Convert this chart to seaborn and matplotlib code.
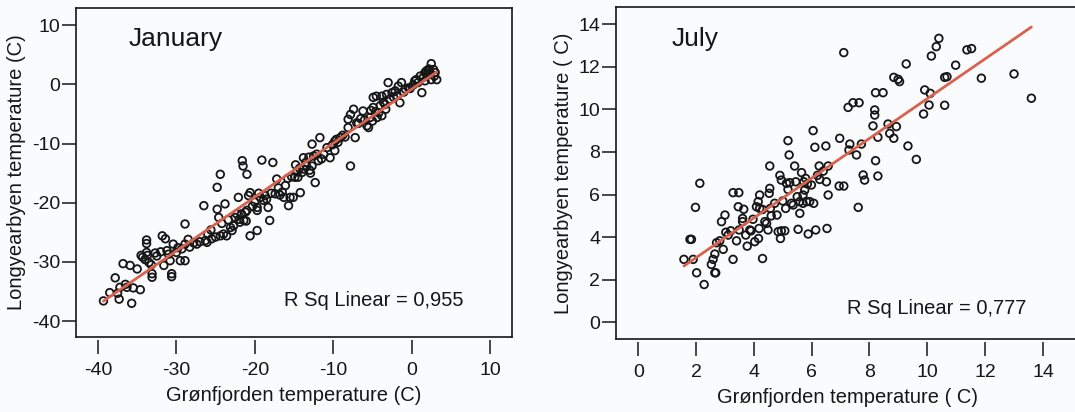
import matplotlib
matplotlib.use("Agg")
import matplotlib.pyplot as plt
import seaborn as sns

# January: Grønfjorden (x) vs Longyearbyen (y)
jan_x = [
    -39.3, -37.8, -37.5, -37.3, -36.8, -35.9, -37.2, -36.3, -35.5, -34.6,
    -35.7, -34.5, -34.3, -33.7, -33.8, -33.8, -33.8, -33.5, -33.1, -33.1,
    -32.7, -31.8, -31.4, -31.6, -31.2, -31.0, -30.6, -30.6, -30.4, -30.8,
    -29.5, -28.9, -28.9, -28.9, -29.3, -28.3, -27.4, -26.5, -26.3, -25.5,
    -26.1, -24.8, -24.4, -24.8, -24.6, -24.4, -24.0, -23.8, -23.6, -23.1,
    -22.7, -22.5, -22.3, -22.1, -21.9, -21.4, -21.6, -21.5, -21.2, -21.0,
    -20.8, -20.6, -21.0, -21.1, -20.6, -19.7, -19.1, -19.3, -18.9, -19.7,
    -19.7, -18.5, -18.3, -18.1, -17.7, -17.9, -17.4, -17.2, -16.8, -16.3,
    -16.1, -15.7, -15.5, -15.1, -14.9, -14.5, -14.2, -14.0, -13.8, -13.8,
    -13.4, -12.7, -12.7, -11.7, -12.3, -12.1, -11.9, -11.5, -10.4, -9.8,
    -9.6, -9.8, -9.1, -7.8, -8.1, -8.1, -7.8, -7.4, -7.2, -7.0,
    -6.2, -5.7, -5.5, -5.3, -4.9, -4.9, -4.5, -3.8, -3.2, -4.2,
    -3.8, -3.4, -3.0, -2.5, -2.1, -1.7, -1.3, -1.5, -0.8, -0.4,
    0.4, 0.6, 1.3, 1.1, 1.7, 2.1, 2.5, 2.8, 3.0, 2.5,
    3.2, 1.7,
    -38.5, -36.5, -34.0, -32.5, -32.0, -30.0, -29.8, -27.8, -27.0, -26.0,
    -25.0, -22.9, -22.0, -21.7, -20.3, -20.0, -19.5, -18.7, -17.0, -16.5,
    -15.8, -15.3, -14.6, -14.3, -13.5, -13.1, -12.5, -11.2, -10.8, -10.1,
    -9.4, -8.8, -8.5, -6.8, -6.5, -6.0, -5.2, -4.6, -4.0, -3.6,
    -2.8, -2.3, -1.9, -1.0, -0.2, 0.2, 0.8, 1.5, 2.0, 2.4,
    2.9, 2.2, 1.9, -5.0, -4.4, -3.3, -13.0, -12.9, -14.8, -23.4,
    -24.2, -25.6, -28.5, -33.2, -35.0,
]
jan_y = [
    -36.6, -32.7, -35.3, -36.3, -30.3, -30.6, -34.3, -34.3, -34.4, -34.7,
    -37.0, -28.9, -29.2, -28.9, -26.3, -26.9, -28.4, -30.1, -32.0, -32.6,
    -28.5, -25.6, -26.1, -30.6, -28.1, -28.7, -32.0, -32.5, -27.0, -29.8,
    -29.8, -29.8, -23.6, -27.0, -27.8, -27.5, -27.0, -20.5, -26.4, -26.1,
    -26.7, -17.4, -15.2, -21.1, -22.5, -25.6, -25.3, -20.2, -25.6, -24.2,
    -23.9, -22.5, -21.9, -19.1, -23.3, -23.0, -12.9, -13.8, -21.6, -15.2,
    -18.8, -18.3, -21.3, -23.1, -25.6, -24.7, -12.8, -19.1, -19.6, -20.8,
    -21.3, -19.4, -20.8, -23.0, -13.2, -18.4, -18.5, -16.0, -18.7, -19.1,
    -17.1, -20.5, -19.1, -19.1, -15.7, -15.7, -18.3, -14.9, -14.3, -12.4,
    -13.8, -13.8, -10.1, -9.0, -16.6, -11.8, -12.9, -12.6, -12.4, -9.6,
    -9.3, -11.2, -9.0, -13.8, -7.3, -5.9, -5.1, -4.2, -9.0, -6.5,
    -4.5, -7.0, -7.3, -5.6, -3.9, -2.2, -2.0, -2.0, -1.7, -4.8,
    -5.3, -3.4, 0.3, -1.4, -1.1, -0.3, 0.3, -3.1, -0.8, -0.6,
    0.6, 0.8, -1.4, 1.4, 2.0, 2.2, 3.5, 2.5, 2.0, 0.8,
    0.8, 0.6,
    -35.2, -33.8, -29.6, -29.0, -28.3, -28.4, -27.6, -26.8, -26.6, -25.3,
    -25.8, -24.7, -22.8, -21.9, -20.6, -19.9, -18.4, -18.8, -17.5, -18.2,
    -15.9, -15.6, -14.8, -14.2, -13.2, -12.3, -12.1, -11.8, -10.7, -10.2,
    -9.8, -8.6, -8.9, -6.6, -5.8, -6.0, -4.4, -4.6, -3.6, -3.0,
    -2.5, -2.2, -1.9, -1.3, -0.7, -0.1, 0.3, 1.2, 1.6, 1.9,
    1.4, 2.6, 2.3, -6.2, -5.6, -4.2, -14.5, -15.0, -13.6, -22.9,
    -23.5, -24.6, -26.2, -30.5, -31.2,
]

# July
jul_x = [
    1.58, 1.79, 1.84, 1.90, 2.02, 1.98, 2.13, 2.28, 2.53, 2.59,
    2.65, 2.65, 2.68, 2.71, 2.82, 2.94, 2.88, 3.00, 3.03, 3.11,
    3.28, 3.28, 3.48, 3.40, 3.46, 3.65, 3.49, 3.61, 3.61, 3.77,
    3.72, 3.86, 3.97, 4.03, 4.09, 4.15, 4.20, 4.16, 4.20, 4.18,
    4.30, 4.38, 4.44, 4.49, 4.53, 4.55, 4.55, 4.57, 4.72, 4.80,
    4.84, 4.95, 4.92, 5.07, 4.95, 5.10, 5.18, 5.22, 5.13, 5.18,
    5.24, 5.30, 5.36, 5.41, 5.45, 5.53, 5.59, 5.59, 5.70, 5.65,
    5.73, 5.79, 5.76, 5.70, 5.88, 5.82, 5.93, 6.05, 6.11, 5.99,
    6.07, 6.14, 6.26, 6.28, 6.49, 6.51, 6.53, 6.57, 6.57, 6.97,
    6.95, 7.11, 7.11, 7.26, 7.43, 7.64, 7.32, 7.29, 7.55, 7.61,
    7.72, 7.78, 7.83, 8.12, 8.18, 8.18, 8.21, 8.47, 8.21, 8.29,
    8.29, 8.64, 8.70, 8.84, 8.93, 8.84, 8.99, 9.04, 9.27, 9.33,
    9.62, 9.87, 9.91, 10.10, 10.06, 10.14, 10.31, 10.40, 10.60, 10.68,
    10.60, 10.98, 11.37, 11.53, 11.87, 13.00, 13.60,
    4.60, 5.00, 5.50, 6.20, 3.90, 4.30, 5.85, 6.40, 3.20, 4.90,
]
jul_y = [
    2.96, 3.90, 3.90, 2.96, 2.33, 5.40, 6.53, 1.78, 2.72, 2.96,
    3.21, 2.33, 2.33, 3.74, 3.83, 3.43, 4.73, 5.04, 4.23, 4.10,
    2.96, 6.09, 6.09, 3.83, 5.43, 5.31, 4.34, 4.88, 4.73, 3.58,
    4.10, 4.34, 4.84, 3.79, 5.43, 5.67, 5.98, 3.94, 5.35, 4.41,
    3.00, 4.73, 4.65, 4.34, 6.06, 6.29, 7.34, 5.35, 5.59, 5.04,
    4.26, 4.30, 3.94, 4.30, 6.68, 5.35, 8.53, 7.86, 6.53, 6.24,
    6.56, 5.59, 5.51, 7.34, 6.60, 4.37, 5.12, 5.67, 5.59, 7.03,
    6.60, 6.76, 6.21, 5.98, 4.15, 5.67, 5.67, 9.00, 8.22, 6.45,
    5.59, 4.34, 7.34, 6.71, 8.28, 6.60, 4.41, 5.98, 7.34, 8.64,
    6.40, 6.40, 12.66, 10.09, 10.31, 10.31, 8.37, 8.09, 7.86, 5.40,
    8.37, 6.92, 6.68, 9.22, 9.73, 9.97, 10.78, 10.78, 7.59, 8.69,
    6.87, 9.31, 8.87, 8.64, 9.19, 11.50, 11.41, 11.30, 12.13, 8.28,
    7.65, 9.78, 10.91, 10.75, 10.20, 12.50, 12.94, 13.33, 11.50, 11.53,
    10.19, 12.07, 12.79, 12.85, 11.46, 11.66, 10.52,
    5.00, 5.70, 5.90, 6.90, 4.30, 5.30, 6.50, 7.10, 4.30, 6.90,
]

jan_ticks_x = [-40, -30, -20, -10, 0, 10]
jan_ticks_y = [-40, -30, -20, -10, 0, 10]
jul_ticks_x = [0, 2, 4, 6, 8, 10, 12, 14]
jul_ticks_y = [0, 2, 4, 6, 8, 10, 12, 14]

sns.set_style("white")
plt.rcParams["font.family"] = ["Liberation Sans", "DejaVu Sans"]
plt.rcParams["axes.unicode_minus"] = False

paper = "#fafbfd"
ink = "#161616"
fit_color = "#d8624e"

fig = plt.figure(figsize=(10.75, 4.12), dpi=100, facecolor=paper)
ax1 = fig.add_axes([0.0707, 0.182, 0.4056, 0.7985])
ax2 = fig.add_axes([0.573, 0.177, 0.4316, 0.806])


def draw_panel(ax, x, y, title, r2_text, r2_pos, xlabel, ylabel, xt, yt, xlim, ylim):
    ax.set_facecolor(paper)
    sns.regplot(
        x=x, y=y, ax=ax, ci=None, truncate=True, color=ink,
        scatter_kws=dict(s=30, facecolors="none", edgecolors=ink, linewidths=1.3, alpha=1),
        line_kws=dict(color=fit_color, lw=2),
    )
    ax.set_xlim(*xlim)
    ax.set_ylim(*ylim)
    ax.set_xticks(xt)
    ax.set_yticks(yt)
    for side in ("top", "left", "right"):
        ax.spines[side].set_color(ink)
        ax.spines[side].set_linewidth(1.2)
    # x ticks sit a little below the frame, like the SPSS output
    ax.spines["bottom"].set_position(("outward", 2))
    ax.spines["bottom"].set_visible(False)
    ax.plot([0, 1], [0, 0], transform=ax.transAxes, color=ink, lw=1.2, clip_on=False)
    ax.tick_params(axis="both", direction="out", length=10, width=1.1, color=ink,
                   labelsize=14, labelcolor=ink, bottom=True, left=True)
    ax.tick_params(axis="x", pad=6)
    ax.tick_params(axis="y", pad=1.5)
    ax.set_xlabel(xlabel, fontsize=14.5, color=ink, labelpad=5)
    ax.set_ylabel(ylabel, fontsize=14.5, color=ink, labelpad=4)
    ax.text(0.12, 0.905, title, transform=ax.transAxes, fontsize=19, color=ink,
            va="center", ha="left")
    ax.text(r2_pos[0], r2_pos[1], r2_text, transform=ax.transAxes, fontsize=14.5,
            color=ink, va="center", ha="left")


draw_panel(ax1, jan_x, jan_y, "January", "R Sq Linear = 0,955", (0.478, 0.112),
           "Grønfjorden temperature (C)", "Longyearbyen temperature (C)",
           jan_ticks_x, jan_ticks_y, (-42.8, 12.8), (-42.7, 12.9))
draw_panel(ax2, jul_x, jul_y, "July", "R Sq Linear = 0,777", (0.497, 0.093),
           "Grønfjorden temperature ( C)", "Longyearbyen temperature ( C)",
           jul_ticks_x, jul_ticks_y, (-0.77, 15.28), (-0.78, 14.8))

fig.savefig("out.png", dpi=100, facecolor=paper)
